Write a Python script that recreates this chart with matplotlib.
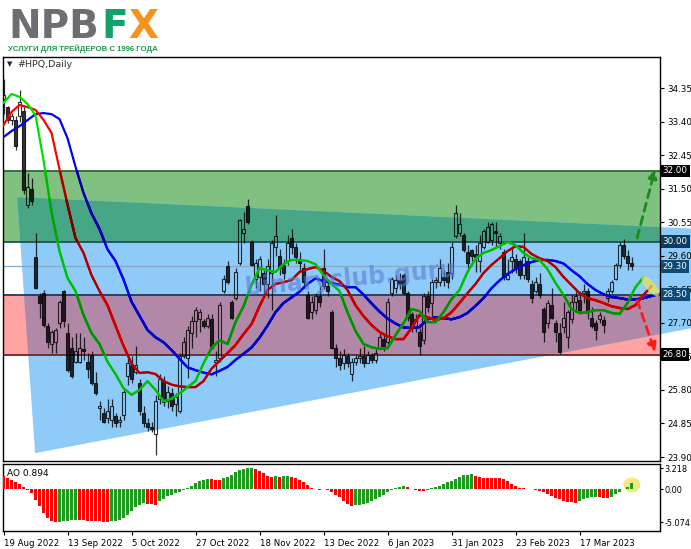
import numpy as np
import matplotlib
matplotlib.use('Agg')
import matplotlib.pyplot as plt
from matplotlib import transforms
from matplotlib.patches import Rectangle, Polygon, Ellipse
from matplotlib.colors import to_rgb

# ---------------- data ----------------
date_labels = ['19 Aug 2022', '13 Sep 2022', '5 Oct 2022', '27 Oct 2022', '18 Nov 2022',
               '13 Dec 2022', '6 Jan 2023', '31 Jan 2023', '23 Feb 2023', '17 Mar 2023']
date_bars = [0, 16, 32, 48, 64, 80, 96, 112, 128, 144]

opens = [34.05, 33.80, 33.45, 33.45, 33.55, 33.70, 31.05, 31.50, 29.55, 28.45,
         28.55, 27.60, 27.10, 27.15, 27.70, 28.60, 27.40, 27.00, 26.60, 26.60,
         26.95, 26.60, 26.80, 26.00, 25.30, 25.15, 25.00, 24.95, 25.05, 24.90,
         25.10, 26.20, 26.50, 26.30, 26.00, 25.15, 24.85, 24.75, 24.55, 25.55,
         26.05, 25.50, 25.70, 25.40, 25.20, 26.75, 26.70, 27.40, 27.75, 27.80,
         27.75, 27.60, 27.80, 26.60, 26.70, 28.60, 29.30, 28.30, 28.40, 29.40,
         30.25, 31.00, 30.00, 28.95, 29.00, 29.10, 28.80, 29.10, 29.85, 29.60,
         29.35, 29.45, 30.10, 29.85, 29.50, 29.25, 28.50, 28.00, 28.05, 28.45,
         29.25, 28.75, 28.00, 27.00, 26.70, 26.55, 26.75, 26.25, 26.60, 26.70,
         26.75, 26.55, 26.80, 26.65, 27.00, 27.25, 27.15, 28.55, 28.70, 28.90,
         29.05, 28.55, 27.95, 27.60, 27.45, 27.20, 28.45, 28.25, 28.85, 28.85,
         29.00, 29.15, 29.10, 30.15, 30.25, 30.20, 29.70, 29.75, 29.65, 29.45,
         29.85, 30.00, 30.05, 30.30, 29.95, 29.70, 28.95, 29.45, 29.50, 29.45,
         29.05, 29.45, 28.80, 28.60, 28.80, 28.10, 27.70, 28.20, 27.70, 27.40,
         27.58, 27.30, 27.80, 28.30, 28.35, 28.55, 28.60, 27.85, 27.70, 27.82,
         27.78, 28.40, 28.60, 28.95, 29.35, 29.90, 29.60, 29.40]
highs = [34.60, 33.85, 33.65, 33.55, 34.30, 33.85, 31.95, 31.80, 30.25, 28.55,
         28.62, 27.70, 27.50, 27.55, 28.35, 28.62, 27.70, 27.30, 27.40, 27.40,
         27.30, 26.85, 26.90, 26.30, 25.50, 25.30, 25.55, 25.55, 25.15, 25.05,
         25.85, 26.70, 26.75, 27.05, 26.10, 25.35, 25.00, 24.90, 25.65, 26.25,
         26.20, 25.90, 25.85, 25.70, 26.85, 27.30, 27.60, 27.90, 28.15, 28.10,
         27.80, 27.95, 27.95, 26.90, 28.30, 29.05, 29.45, 28.35, 29.25, 30.65,
         30.85, 31.20, 30.05, 29.50, 29.60, 29.20, 29.50, 30.05, 30.75, 29.80,
         29.50, 30.20, 30.35, 29.95, 29.70, 29.40, 28.60, 28.45, 28.55, 28.75,
         29.80, 28.95, 28.05, 27.10, 26.90, 26.95, 26.85, 26.70, 26.80, 27.00,
         27.05, 26.90, 26.85, 26.95, 27.45, 27.35, 28.40, 29.00, 29.05, 29.10,
         29.10, 28.60, 28.00, 27.95, 27.55, 28.55, 28.60, 28.95, 29.00, 29.50,
         29.20, 29.40, 30.00, 31.05, 30.80, 30.25, 29.90, 29.80, 29.90, 30.20,
         30.35, 30.55, 30.55, 30.55, 30.25, 29.80, 29.50, 29.85, 29.65, 29.50,
         30.25, 29.55, 28.90, 29.00, 29.10, 28.15, 28.35, 28.70, 27.78, 27.70,
         28.30, 28.05, 28.50, 28.60, 28.60, 28.80, 28.70, 28.15, 27.78, 28.00,
         27.88, 28.70, 28.90, 29.40, 29.98, 30.08, 29.75, 29.55]
lows = [33.60, 33.35, 33.30, 32.60, 33.40, 31.35, 30.95, 31.05, 28.65, 27.85,
        27.58, 27.00, 26.85, 26.85, 27.55, 27.58, 26.30, 26.15, 26.55, 26.55,
        26.65, 26.15, 25.95, 25.65, 24.95, 24.85, 24.85, 24.75, 24.75, 24.75,
        24.95, 25.95, 26.00, 26.25, 25.10, 24.75, 24.65, 24.60, 23.95, 25.40,
        25.35, 25.30, 25.20, 25.05, 25.15, 26.70, 26.15, 27.00, 27.30, 27.45,
        27.55, 27.55, 26.95, 26.20, 26.60, 28.55, 28.80, 27.80, 28.35, 29.35,
        29.95, 30.50, 29.30, 28.70, 28.60, 28.55, 28.40, 28.05, 29.60, 29.05,
        28.95, 29.35, 29.65, 29.40, 29.20, 28.70, 27.80, 27.80, 27.95, 28.15,
        28.65, 28.45, 26.95, 26.45, 26.35, 26.40, 26.45, 26.05, 26.50, 26.55,
        26.45, 26.55, 26.55, 26.55, 26.95, 26.90, 27.05, 28.45, 28.55, 28.65,
        28.50, 27.75, 27.45, 27.45, 26.80, 27.10, 28.00, 27.90, 28.70, 28.75,
        28.75, 28.70, 28.95, 30.10, 30.15, 29.70, 29.20, 29.45, 29.15, 29.15,
        29.80, 29.95, 29.90, 29.85, 29.80, 28.90, 28.90, 29.10, 29.10, 28.95,
        28.95, 28.85, 28.25, 28.55, 28.40, 27.15, 27.55, 27.80, 27.15, 26.82,
        27.40, 27.00, 27.70, 28.05, 27.95, 28.25, 27.80, 27.55, 27.20, 27.70,
        27.40, 28.30, 28.55, 28.90, 29.25, 29.50, 29.20, 29.20]
closes = [34.15, 33.45, 33.55, 32.70, 33.95, 31.45, 31.55, 31.15, 28.70, 28.25,
          27.65, 27.15, 27.45, 27.50, 28.30, 27.75, 26.35, 26.20, 26.90, 27.00,
          26.90, 26.40, 26.00, 25.70, 25.35, 24.90, 25.20, 25.35, 24.85, 24.95,
          25.75, 26.55, 26.10, 26.50, 25.20, 24.85, 24.75, 24.70, 25.50, 26.10,
          25.45, 25.75, 25.35, 25.60, 26.75, 27.15, 27.50, 27.75, 28.05, 28.00,
          27.60, 27.85, 27.00, 26.65, 28.20, 28.95, 28.85, 27.85, 29.15, 30.60,
          30.35, 30.55, 29.35, 29.40, 29.50, 28.80, 29.30, 29.95, 30.15, 29.25,
          29.10, 29.95, 29.85, 29.55, 29.40, 28.85, 27.85, 28.30, 28.45, 28.30,
          28.75, 28.60, 27.00, 26.70, 26.50, 26.80, 26.55, 26.60, 26.70, 26.75,
          26.55, 26.80, 26.65, 26.85, 27.30, 27.05, 28.30, 28.95, 28.90, 28.80,
          28.55, 27.85, 27.55, 27.80, 27.05, 28.45, 28.15, 28.85, 28.90, 29.25,
          28.90, 28.85, 29.85, 30.80, 30.50, 29.75, 29.40, 29.60, 29.55, 29.95,
          30.30, 30.40, 30.50, 30.25, 30.15, 29.00, 29.05, 29.55, 29.25, 29.05,
          29.55, 28.95, 28.40, 28.85, 28.50, 27.45, 28.25, 27.85, 27.45, 26.88,
          27.85, 28.00, 28.30, 28.45, 28.05, 28.60, 28.00, 27.60, 27.50, 27.92,
          27.64, 28.60, 28.85, 29.35, 29.90, 29.60, 29.40, 29.30]

# Alligator lines (read every 2 bars, already shifted forward as on the chart)
lips_bars = list(range(0, 161, 2))
lips_vals = [33.93, 34.18, 34.10, 33.90, 33.58, 32.31, 30.84, 29.73, 28.97, 28.60,
             27.92, 27.41, 27.10, 26.60, 26.25, 25.85, 25.66, 25.80, 26.05, 25.80,
             25.48, 25.55, 25.70, 25.88, 26.05, 26.55, 26.98, 27.21, 27.10, 27.72,
             28.17, 28.77, 29.25, 29.19, 29.14, 29.36, 29.48, 29.48, 29.45, 29.36,
             29.05, 28.80, 28.60, 28.00, 27.47, 27.10, 27.01, 26.96, 26.98, 27.35,
             27.69, 28.09, 28.03, 27.72, 27.72, 28.00, 28.37, 28.63, 29.14, 29.51,
             29.68, 29.76, 29.87, 29.99, 29.90, 29.68, 29.53, 29.48, 29.22, 28.83,
             28.49, 28.09, 27.98, 28.00, 28.06, 28.06, 27.98, 27.95, 28.26, 28.71,
             28.99]
teeth_bars = list(range(0, 163, 2))
teeth_vals = [33.30, 33.67, 33.87, 33.81, 33.73, 33.45, 33.08, 32.05, 31.05, 30.10,
              29.68, 29.05, 28.60, 28.20, 27.62, 27.05, 26.55, 26.28, 26.30, 26.25,
              26.05, 25.95, 25.90, 25.88, 25.88, 26.05, 26.40, 26.62, 26.84, 27.07,
              27.38, 27.66, 28.17, 28.63, 28.80, 28.85, 28.91, 29.14, 29.22, 29.28,
              29.17, 29.00, 28.88, 28.63, 28.20, 27.89, 27.64, 27.44, 27.32, 27.24,
              27.24, 27.55, 27.92, 27.86, 27.78, 27.83, 28.00, 28.26, 28.54, 28.80,
              29.11, 29.34, 29.53, 29.73, 29.87, 29.85, 29.65, 29.53, 29.45, 29.28,
              29.00, 28.77, 28.54, 28.40, 28.34, 28.26, 28.17, 28.12, 28.09, 28.20,
              28.49, 28.74]
jaw_bars = list(range(0, 165, 2))
jaw_vals = [32.96, 33.13, 33.27, 33.44, 33.61, 33.64, 33.61, 33.47, 32.93, 32.12,
            31.38, 30.80, 30.36, 29.78, 29.45, 28.93, 28.30, 27.90, 27.50, 27.29,
            27.15, 26.93, 26.68, 26.44, 26.36, 26.29, 26.24, 26.34, 26.45, 26.65,
            26.82, 27.00, 27.28, 27.62, 28.00, 28.26, 28.42, 28.58, 28.80, 28.96,
            28.88, 28.83, 28.78, 28.71, 28.71, 28.50, 28.25, 28.02, 27.82, 27.68,
            27.57, 27.55, 27.58, 27.80, 27.86, 27.83, 27.80, 27.86, 27.98, 28.18,
            28.40, 28.68, 28.90, 29.08, 29.22, 29.33, 29.42, 29.48, 29.48, 29.45,
            29.38, 29.19, 29.02, 28.80, 28.63, 28.51, 28.43, 28.40, 28.36, 28.36,
            28.40, 28.46, 28.52]

ao_vals = [2.03, 1.78, 1.42, 1.07, 0.76, 0.36, -0.10, -0.61, -1.63, -2.64,
           -3.66, -4.50, -4.95, -5.074, -4.98, -4.92, -4.88, -4.80, -4.72, -4.76,
           -4.80, -4.85, -4.90, -4.92, -4.95, -4.97, -4.99, -4.96, -4.90, -4.68,
           -4.40, -3.92, -3.31, -2.80, -2.39, -2.14, -2.20, -2.35, -2.40, -1.88,
           -1.48, -1.12, -0.86, -0.61, -0.36, -0.10, 0.15, 0.51, 0.92, 1.22,
           1.42, 1.58, 1.52, 1.48, 1.45, 1.73, 1.88, 2.19, 2.59, 2.90,
           3.10, 3.20, 3.218, 3.10, 2.85, 2.44, 2.09, 1.88, 1.98, 1.93,
           1.96, 1.99, 1.83, 1.68, 1.42, 1.07, 0.66, 0.25, 0.10, -0.05,
           -0.02, -0.12, -0.46, -0.86, -1.27, -1.78, -2.24, -2.54, -2.49, -2.44,
           -2.34, -2.19, -1.88, -1.58, -1.22, -0.86, -0.46, -0.15, 0.20, 0.41,
           0.46, 0.30, 0.10, -0.10, -0.22, -0.28, -0.18, 0.15, 0.36, 0.56,
           0.76, 1.07, 1.32, 1.58, 1.88, 2.14, 2.24, 2.29, 2.09, 1.83,
           1.78, 1.76, 1.74, 1.72, 1.68, 1.58, 1.27, 0.81, 0.46, 0.25,
           0.15, 0.10, 0.05, -0.05, -0.20, -0.46, -0.76, -1.07, -1.32, -1.58,
           -1.78, -1.93, -2.03, -2.05, -1.78, -1.53, -1.37, -1.27, -1.22, -1.25,
           -1.30, -1.32, -1.15, -0.76, -0.36, 0.05, 0.41, 0.894]

price_ticks = [23.90, 24.85, 25.80, 26.75, 27.70, 28.65, 29.60, 30.55, 31.50, 32.45, 33.40, 34.35]
ao_ticks = [3.218, 0.00, -5.074]
ao_tick_labels = ['3.218', '0.00', '-5.074']

# drawn zones: green 30-32, red 26.8-28.5 and the blue triangle
green_zone = (30.00, 32.00)
red_zone = (26.80, 28.50)
triangle = [(3.4, 31.26), (7.9, 24.01), (174.0, 27.59), (174.0, 30.36)]
levels = [(32.00, '#2c6a3a', 'black'), (30.00, '#1e4f58', '#0e3a5c'),
          (29.30, '#86a9c8', '#0c4a7a'), (28.50, '#1d3b5a', '#0c4a7a'),
          (26.80, '#6e2424', 'black')]
up_arrow = ((158.4, 30.10), (162.9, 32.05))
down_arrow = ((158.4, 28.34), (162.9, 26.87))


def clip_band(poly, lo, hi):
    def clip(pts, keep, cross):
        out = []
        for i in range(len(pts)):
            p, q = pts[i - 1], pts[i]
            if keep(q):
                if not keep(p):
                    out.append(cross(p, q))
                out.append(q)
            elif keep(p):
                out.append(cross(p, q))
        return out

    def at(y0):
        return lambda p, q: (p[0] + (q[0] - p[0]) * (y0 - p[1]) / (q[1] - p[1]), y0)

    pts = clip(poly, lambda p: p[1] >= lo, at(lo))
    pts = clip(pts, lambda p: p[1] <= hi, at(hi))
    return pts


def tint(c, r, k=0.75):
    c = np.array(to_rgb(c))
    r = np.array(to_rgb(r))
    return tuple(np.clip(c * (1 - k + k * r), 0, 1))


C_GREEN = '#80c080'
C_TEAL = '#46a686'
C_BLUE = '#8fcbf8'
C_PINK = '#ffa3a3'
C_MAUVE = '#b288a8'

fig = plt.figure(figsize=(6.91, 5.49), dpi=100)
ax = fig.add_axes([3 / 691, 88 / 549, 657 / 691, 404 / 549])
ax2 = fig.add_axes([3 / 691, 18 / 549, 657 / 691, 67 / 549])

n = len(closes)
idx = np.arange(n)
o, h, l, c = map(np.array, (opens, highs, lows, closes))

# zones
X0, X1 = -5, 200
band_g = [(X0, green_zone[0]), (X1, green_zone[0]), (X1, green_zone[1]), (X0, green_zone[1])]
band_r = [(X0, red_zone[0]), (X1, red_zone[0]), (X1, red_zone[1]), (X0, red_zone[1])]
teal = clip_band(triangle, *green_zone)
mauve = clip_band(triangle, *red_zone)
ax.add_patch(Polygon(band_g, closed=True, fc=C_GREEN, ec='none', zorder=0.5))
ax.add_patch(Polygon(band_r, closed=True, fc=C_PINK, ec='none', zorder=0.5))
ax.add_patch(Polygon(triangle, closed=True, fc=C_BLUE, ec='none', zorder=0.6, clip_on=False))
ax.add_patch(Polygon(teal, closed=True, fc=C_TEAL, ec='none', zorder=0.7))
ax.add_patch(Polygon(mauve, closed=True, fc=C_MAUVE, ec='none', zorder=0.7))

for y, lc, _ in levels:
    ax.axhline(y, color=lc, lw=1.3 if y != 29.30 else 0.9, zorder=2)

# candles
body_w = 0.62
for i in idx:
    top, bot = max(o[i], c[i]), min(o[i], c[i])
    ax.plot([i, i], [top, h[i]], color='black', lw=0.9, alpha=0.8, zorder=3, solid_capstyle='butt')
    ax.plot([i, i], [l[i], bot], color='black', lw=0.9, alpha=0.8, zorder=3, solid_capstyle='butt')
    ht = max(top - bot, 0.015)
    ax.add_patch(Rectangle((i - body_w / 2, bot), body_w, ht,
                           fc='none' if c[i] >= o[i] else 'black', ec='black',
                           lw=0.8, alpha=0.8, zorder=3))

# alligator
regions = [(triangle, C_BLUE), (band_g, C_GREEN), (band_r, C_PINK), (teal, C_TEAL), (mauve, C_MAUVE)]
for bars, vals, col in [(jaw_bars, jaw_vals, '#0000ff'),
                        (teeth_bars, teeth_vals, '#ff0000'),
                        (lips_bars, lips_vals, '#00e000')]:
    ax.plot(bars, vals, color=col, lw=1.6, zorder=4)
    for poly, rc in regions:
        ln, = ax.plot(bars, vals, color=tint(col, rc), lw=1.6, zorder=4)
        ln.set_clip_path(Polygon(poly, closed=True, transform=ax.transData))

# arrows
ax.annotate('', xy=up_arrow[1], xytext=up_arrow[0], annotation_clip=False,
            arrowprops=dict(arrowstyle='-|>', color='#1c8a1c', lw=2, ls=(0, (3, 2)),
                            mutation_scale=13, shrinkA=0, shrinkB=0), zorder=5)
ax.annotate('', xy=down_arrow[1], xytext=down_arrow[0], annotation_clip=False,
            arrowprops=dict(arrowstyle='-|>', color='#ff1a1a', lw=2, ls=(0, (3, 2)),
                            mutation_scale=13, shrinkA=0, shrinkB=0), zorder=5)

# yellow highlights
tr = fig.dpi_scale_trans + transforms.ScaledTranslation(161.75, 28.74, ax.transData)
ax.add_patch(Ellipse((0, 0), 0.25, 0.095, angle=-50, transform=tr, fc='#e8e25a',
                     ec='none', alpha=0.75, zorder=6, clip_on=False))

# watermark
ax.text(60.4, 28.5, 'binaryclub.guru', rotation=5, rotation_mode='anchor', fontsize=17,
        fontweight='bold', color='#5b79d6', alpha=0.6, zorder=7, ha='left', va='baseline')

ax.set_xlim(-0.125, 164.125)
ax.set_ylim(23.787, 35.228)
ax.set_xticks([])
ax.yaxis.tick_right()
ax.set_yticks(price_ticks)
ax.set_yticklabels(['%.2f' % v for v in price_ticks])
ax.tick_params(axis='y', direction='out', length=3, width=0.8, pad=2, labelsize=6.3)
for s in ax.spines.values():
    s.set_color('black')
    s.set_linewidth(1)

# price boxes on the right scale
bt = transforms.blended_transform_factory(ax.transAxes, ax.transData)
for y, _, bc in levels:
    ax.text(1.004, y, '%.2f' % y, transform=bt, ha='left', va='center', fontsize=6.3,
            color='white', zorder=10, clip_on=False,
            bbox=dict(boxstyle='square,pad=0.22', fc=bc, ec='none'))

# AO panel
ao = np.array(ao_vals)
ao_col = ['#ff0000'] + ['#1e9a1e' if ao[i] > ao[i - 1] else '#ff0000' for i in range(1, n)]
tr2 = fig.dpi_scale_trans + transforms.ScaledTranslation(157.1, 0.65, ax2.transData)
ax2.add_patch(Ellipse((0, 0), 0.17, 0.15, transform=tr2, fc='#f2e66a', ec='none',
                      alpha=0.85, zorder=2, clip_on=False))
ax2.bar(idx, ao, width=0.7, color=ao_col, linewidth=0, zorder=3)
ax2.set_xlim(-0.125, 164.125)
ax2.set_ylim(-6.42, 3.87)
ax2.yaxis.tick_right()
ax2.set_yticks(ao_ticks)
ax2.set_yticklabels(ao_tick_labels)
ax2.tick_params(axis='y', direction='out', length=2, width=0.8, pad=1, labelsize=5.9)
ax2.set_xticks(date_bars)
ax2.set_xticklabels(date_labels)
for t in ax2.get_xticklabels():
    t.set_ha('left')
ax2.tick_params(axis='x', direction='out', length=3, width=0.8, pad=3, labelsize=6.2)
for s in ax2.spines.values():
    s.set_color('black')
    s.set_linewidth(1)
ax2.text(0.006, 0.86, 'AO 0.894', transform=ax2.transAxes, fontsize=6.5, va='center', ha='left')

# header texts
fig.text(7 / 691, 1 - 64 / 549, '\u25bc', fontsize=5, va='center', ha='left', color='#222222')
fig.text(17 / 691, 1 - 64 / 549, '#HPQ,Daily', fontsize=6.8, va='center', ha='left', color='#333333')

# logo
fig.text(8 / 691, 1 - 38 / 549, 'NPB', fontsize=28, fontweight='heavy', color='#6d6e71',
         ha='left', va='baseline')
fig.text(101 / 691, 1 - 38 / 549, 'F', fontsize=28, fontweight='heavy', color='#12a36d',
         ha='left', va='baseline')
fig.text(128 / 691, 1 - 38 / 549, 'X', fontsize=28, fontweight='heavy', color='#f5921e',
         ha='left', va='baseline')
fig.text(8 / 691, 1 - 51 / 549, 'УСЛУГИ ДЛЯ ТРЕЙДЕРОВ С 1996 ГОДА', fontsize=5.6,
         fontweight='bold', color='#1f9a4f', ha='left', va='baseline',
         family=['Liberation Sans', 'DejaVu Sans'])

fig.savefig('out.png', dpi=100)
